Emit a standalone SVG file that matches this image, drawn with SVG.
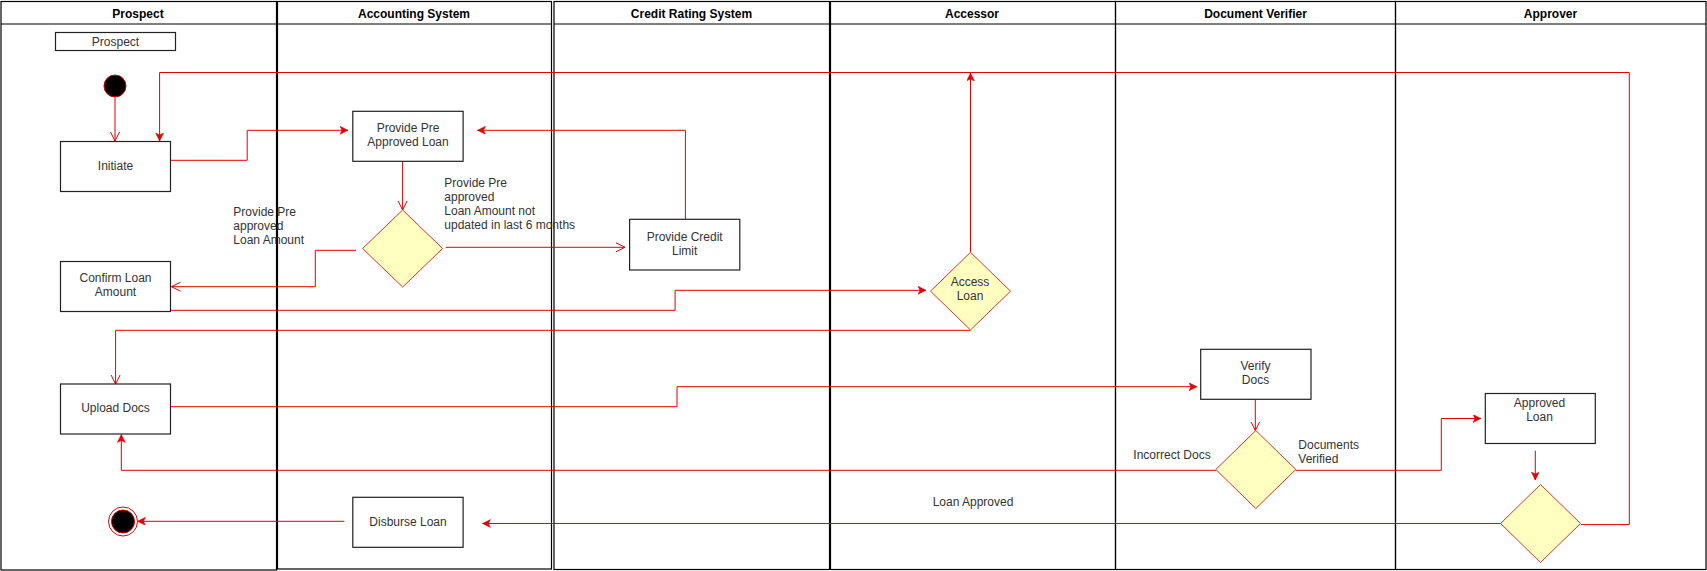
<svg xmlns="http://www.w3.org/2000/svg" width="1707" height="571" viewBox="0 0 1707 571">
<style>
.lane{fill:none;stroke:#000;stroke-width:1.2}
.hdr{font-family:"Liberation Sans",Arial,sans-serif;font-size:12px;font-weight:bold;fill:#000;text-anchor:middle}
.box{fill:#fff;stroke:#222;stroke-width:1.2}
.dia{fill:#ffffc0;stroke:#e03030;stroke-width:1}
.t{font-family:"Liberation Sans",Arial,sans-serif;font-size:12px;fill:#333;text-anchor:middle}
.lb{font-family:"Liberation Sans",Arial,sans-serif;font-size:12px;fill:#333}
.c{fill:none;stroke:#e00000;stroke-width:1}
</style>
<defs>
<marker id="fa" markerUnits="userSpaceOnUse" markerWidth="10" markerHeight="10" refX="8" refY="4" orient="auto">
<path d="M0,0 L8,4 L0,8 L2,4 z" fill="#e00000" stroke="#e00000" stroke-width="0.5"/>
</marker>
<marker id="oa" markerUnits="userSpaceOnUse" markerWidth="12" markerHeight="12" refX="9" refY="5" orient="auto">
<path d="M0,0.5 L9,5 L0,9.5" fill="none" stroke="#e00000" stroke-width="1"/>
</marker>
</defs>
<g id="lanes">
<g id="lane-prospect"><rect class="lane" x="1" y="1.5" width="275.5" height="568.5"/><line class="lane" x1="1" y1="24" x2="276.5" y2="24"/><text class="hdr" x="138" y="18">Prospect</text></g>
<g id="lane-accounting"><rect class="lane" x="277.5" y="1.5" width="274" height="567.5"/><line class="lane" x1="277.5" y1="24" x2="551.5" y2="24"/><text class="hdr" x="414" y="18">Accounting System</text></g>
<g id="lane-credit"><rect class="lane" x="554" y="1.5" width="275.5" height="568"/><line class="lane" x1="554" y1="24" x2="829.5" y2="24"/><text class="hdr" x="691.5" y="18">Credit Rating System</text></g>
<g id="lane-accessor"><rect class="lane" x="830.5" y="1.5" width="285" height="568"/><line class="lane" x1="830.5" y1="24" x2="1115.5" y2="24"/><text class="hdr" x="972" y="18">Accessor</text></g>
<g id="lane-verifier"><rect class="lane" x="1115.5" y="1.5" width="280" height="568"/><line class="lane" x1="1115.5" y1="24" x2="1395.5" y2="24"/><text class="hdr" x="1255.5" y="18">Document Verifier</text></g>
<g id="lane-approver"><rect class="lane" x="1395.5" y="1.5" width="310.5" height="568"/><line class="lane" x1="1395.5" y1="24" x2="1706" y2="24"/><text class="hdr" x="1550.5" y="18">Approver</text></g>
</g>
<g id="connectors">
<path class="c" d="M115,97.5 V141" marker-end="url(#oa)"/>
<path class="c" d="M170.5,160.3 H247.2 V130.3 H348" marker-end="url(#fa)"/>
<path class="c" d="M402.6,161.3 V210" marker-end="url(#oa)"/>
<path class="c" d="M356,250.3 H315.3 V286.7 H171.5" marker-end="url(#oa)"/>
<path class="c" d="M445.7,247.3 H625" marker-end="url(#oa)"/>
<path class="c" d="M685.4,219.3 V130.3 H477.5" marker-end="url(#fa)"/>
<path class="c" d="M170.5,310.3 H675.1 V290.3 H926" marker-end="url(#fa)"/>
<path class="c" d="M970.5,330.3 H115.6 V384" marker-end="url(#oa)"/>
<path class="c" d="M970.5,252.3 V73" marker-end="url(#fa)"/>
<path class="c" d="M170.5,406.7 H677 V386.7 H1197" marker-end="url(#fa)"/>
<path class="c" d="M1255.3,399.3 V430.5" marker-end="url(#oa)"/>
<path class="c" d="M1216,470.3 H121.3 V434.5" marker-end="url(#fa)"/>
<path class="c" d="M1295.7,470.3 H1441.3 V418.5 H1481" marker-end="url(#fa)"/>
<path class="c" d="M1535.3,450.6 V480" marker-end="url(#fa)"/>
<path class="c" d="M1500.7,523.5 H482.5" marker-end="url(#fa)"/>
<path class="c" d="M344.4,521.3 H137.5" marker-end="url(#fa)"/>
<path class="c" d="M1581,524.6 H1629.3 V72.5 H159.6 V141" marker-end="url(#fa)"/>
<text class="lb" x="233.3"><tspan x="233.3" y="216">Provide Pre</tspan><tspan x="233.3" y="230">approved</tspan><tspan x="233.3" y="244">Loan Amount</tspan></text>
<text class="lb"><tspan x="444.3" y="187">Provide Pre</tspan><tspan x="444.3" y="201">approved</tspan><tspan x="444.3" y="215">Loan Amount not</tspan><tspan x="444.3" y="229">updated in last 6 months</tspan></text>
<text class="lb" x="1133.3" y="459">Incorrect Docs</text>
<text class="lb"><tspan x="1298.3" y="449">Documents</tspan><tspan x="1298.3" y="462.5">Verified</tspan></text>
<text class="t" x="973" y="506">Loan Approved</text>
</g>
<g id="prospect-label"><rect class="box" x="55.5" y="32.5" width="120" height="18"/><text class="t" x="115.5" y="45.5">Prospect</text></g>
<g id="start"><circle cx="115" cy="86" r="11" fill="#000" stroke="#d00000" stroke-width="1"/></g>
<g id="initiate"><rect class="box" x="60.5" y="141.5" width="110" height="50"/><text class="t" x="115.5" y="170">Initiate</text></g>
<g id="confirm-loan"><rect class="box" x="60.5" y="261.5" width="110" height="50"/><text class="t"><tspan x="115.5" y="281.5">Confirm Loan</tspan><tspan x="115.5" y="296">Amount</tspan></text></g>
<g id="upload-docs"><rect class="box" x="60.5" y="384" width="110" height="50"/><text class="t" x="115.5" y="412">Upload Docs</text></g>
<g id="end"><circle cx="123" cy="521.5" r="14.5" fill="#fff" stroke="#e00000" stroke-width="1"/><circle cx="123" cy="521.5" r="11.5" fill="#000" stroke="#d00000" stroke-width="1"/></g>
<g id="pre-approved-loan"><rect class="box" x="352.8" y="111.3" width="110.3" height="50"/><text class="t"><tspan x="408" y="132">Provide Pre</tspan><tspan x="408" y="146">Approved Loan</tspan></text></g>
<g id="decision-preapproved"><polygon class="dia" points="402.6,210 442.6,248.5 402.6,287 362.6,248.5"/></g>
<g id="disburse-loan"><rect class="box" x="352.8" y="497.3" width="110.3" height="50"/><text class="t" x="408" y="525.5">Disburse Loan</text></g>
<g id="credit-limit"><rect class="box" x="629.6" y="219.3" width="110.2" height="50.7"/><text class="t"><tspan x="684.7" y="241">Provide Credit</tspan><tspan x="684.7" y="255">Limit</tspan></text></g>
<g id="access-loan"><polygon class="dia" points="970.5,252.3 1010.5,291.2 970.5,330 930.5,291.2"/><text class="t"><tspan x="970" y="286">Access</tspan><tspan x="970" y="300">Loan</tspan></text></g>
<g id="verify-docs"><rect class="box" x="1200.7" y="349.3" width="110.3" height="50"/><text class="t"><tspan x="1255.5" y="370">Verify</tspan><tspan x="1255.5" y="384">Docs</tspan></text></g>
<g id="decision-docs"><polygon class="dia" points="1255.8,430.5 1295.8,469.5 1255.8,508.5 1215.8,469.5"/></g>
<g id="approved-loan"><rect class="box" x="1485.3" y="393.5" width="110" height="50"/><text class="t"><tspan x="1539.5" y="407">Approved</tspan><tspan x="1539.5" y="420.5">Loan</tspan></text></g>
<g id="decision-approval"><polygon class="dia" points="1540.5,484.5 1580.5,523.5 1540.5,562.5 1500.5,523.5"/></g>
</svg>
